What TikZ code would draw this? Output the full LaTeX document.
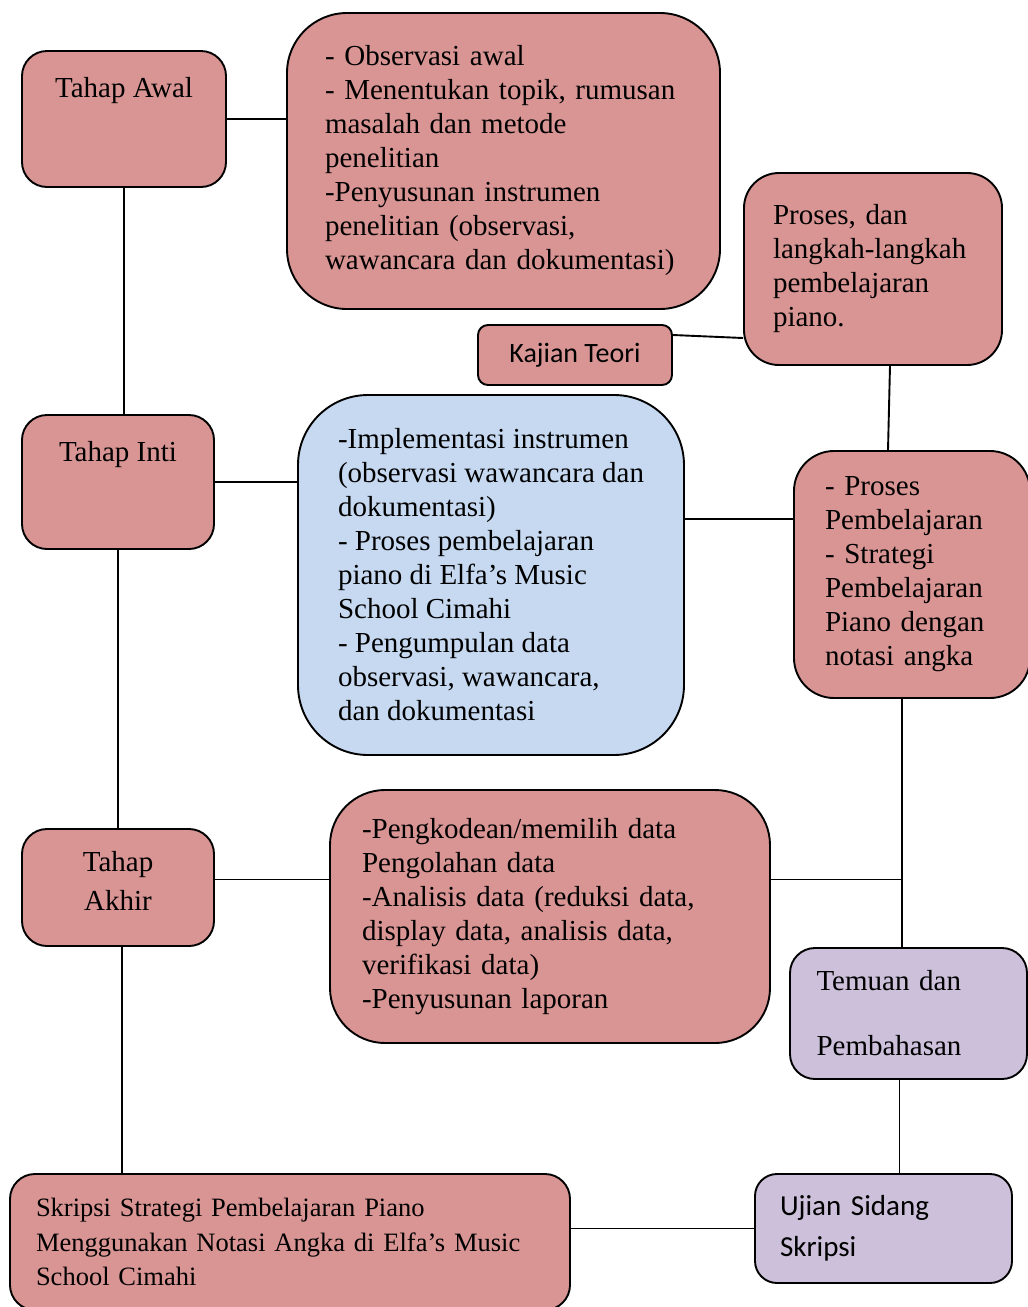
\documentclass[tikz,border=0pt]{standalone}
\usepackage{fontspec}
\setmainfont{Liberation Serif}
\newfontfamily\calibri{Carlito}
\usepackage{tikz}
\definecolor{kotakmerah}{HTML}{D99594}
\definecolor{kotakbiru}{HTML}{C6D9F1}
\definecolor{kotakungu}{HTML}{CCC0DA}

\begin{document}
\begin{tikzpicture}[x=1pt, y=-1pt, line width=1.9,
		kotak/.style={draw, fill=kotakmerah, rounded corners=#1, inner sep=0pt, font=\fontsize{29}{34}\selectfont},
		kotak/.default=25pt]
		\useasboundingbox (0,0) rectangle (1028,1307);
		\node[kotak, minimum width=204, minimum height=136, text height=22pt, text depth=66pt] (awal) at (124,119) {Tahap Awal};
		\node[kotak=60pt, minimum width=433, minimum height=296, align=left, text width=357pt] (observasi) at (503.5,161) {- Observasi awal\\- Menentukan topik, rumusan\\masalah dan metode\\penelitian\\-Penyusunan instrumen\\penelitian (observasi,\\wawancara dan dokumentasi)};
		\node[kotak=35pt, minimum width=258, minimum height=192, align=left, text width=200pt] (proses) at (873,269) {Proses, dan\\langkah-langkah\\pembelajaran\\piano.};
		\node[kotak=10pt, minimum width=194, minimum height=60, font=\calibri\fontsize{28}{34}\selectfont] (kajian) at (575,355) {Kajian Teori};
		\node[kotak, minimum width=192, minimum height=134, text height=22pt, text depth=64pt] (inti) at (118,482) {Tahap Inti};
		\node[kotak=70pt, fill=kotakbiru, minimum width=386, minimum height=360, align=left] (implementasi) at (491,575) {-Implementasi instrumen\\(observasi wawancara dan\\dokumentasi)\\- Proses pembelajaran\\piano di Elfa's Music\\School Cimahi\\- Pengumpulan data\\observasi, wawancara,\\dan dokumentasi};
		\node[kotak=40pt, minimum width=236, minimum height=247, align=left, text width=174pt] (strategi) at (912,574.5) {- Proses\\Pembelajaran\\- Strategi\\Pembelajaran\\Piano dengan\\notasi angka};
		\node[kotak, minimum width=192, minimum height=117, align=center, text depth=13pt, font=\fontsize{29}{39}\selectfont] (akhir) at (118,887.5) {Tahap\\Akhir};
		\node[kotak=55pt, minimum width=440, minimum height=253, align=left, text width=376pt] (pengkodean) at (550,916.5) {-Pengkodean/memilih data\\Pengolahan data\\-Analisis data (reduksi data,\\display data, analisis data,\\verifikasi data)\\-Penyusunan laporan};
		\node[kotak, fill=kotakungu, minimum width=237, minimum height=131, align=left, text width=184pt] (temuan) at (908.5,1013.5) {Temuan dan\\[31pt]Pembahasan};
		\node[kotak=22pt, fill=kotakungu, minimum width=257, minimum height=109, align=left, text width=207pt, font=\calibri\fontsize{29}{41}\selectfont] (ujian) at (883.5,1228.5) {Ujian Sidang\\Skripsi};
		\node[kotak, minimum width=560, minimum height=136, align=left, text width=508pt, font=\fontsize{26.5}{34.5}\selectfont] (skripsi) at (290,1242) {Skripsi Strategi Pembelajaran Piano\\Menggunakan Notasi Angka di Elfa's Music\\School Cimahi};
		\draw (awal.east) -- (awal.east -| observasi.west);
		\draw ([yshift=20pt]kajian.east) -- ([yshift=-69pt]proses.west);
		\draw ([xshift=17pt]proses.south) -- ([xshift=-24pt]strategi.north);
		\draw (awal.south) -- (awal.south |- inti.north);
		\draw (inti.east) -- (inti.east -| implementasi.west);
		\draw ([yshift=56pt]implementasi.east) -- ([yshift=56pt]implementasi.east -| strategi.west);
		\draw (inti.south) -- (akhir.north);
		\coordinate (akhirkanan) at ([yshift=8pt]akhir.east);
		\coordinate (simpang) at ([xshift=-10pt]strategi.south |- akhirkanan);
		\draw ([xshift=-10pt]strategi.south) -- ([xshift=-10pt]strategi.south |- temuan.north);
		\draw (akhirkanan) -- (akhirkanan -| pengkodean.west);
		\draw (pengkodean.east |- simpang) -- (simpang);
		\draw ([xshift=-9pt]temuan.south) -- ([xshift=-9pt]temuan.south |- ujian.north);
		\draw ([xshift=4pt]akhir.south) -- ([xshift=4pt]akhir.south |- skripsi.north);
		\draw (ujian.west -| skripsi.east) -- (ujian.west);
	\end{tikzpicture}
\end{document}
